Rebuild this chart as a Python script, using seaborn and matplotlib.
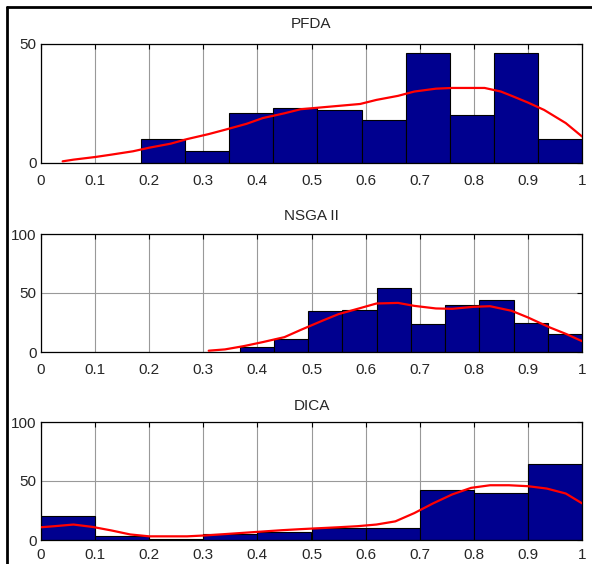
import numpy as np
import pandas as pd
import matplotlib
matplotlib.use("Agg")
import matplotlib.pyplot as plt
from matplotlib.lines import Line2D
import seaborn as sns

# ---------------- data ----------------
titles = ["PFDA", "NSGA II", "DICA"]

pfda_range = (0.185, 1.0)
pfda_counts = [10, 5, 21, 23, 22, 18, 46, 20, 46, 10]
pfda_fit_x = [0.04, 0.06, 0.10, 0.13, 0.17, 0.20, 0.24, 0.27, 0.31, 0.34, 0.38,
              0.41, 0.45, 0.48, 0.52, 0.55, 0.59, 0.62, 0.66, 0.69, 0.73, 0.76,
              0.82, 0.85, 0.87, 0.90, 0.93, 0.97, 1.00]
pfda_fit_y = [0.7, 1.4, 2.5, 3.5, 4.9, 6.4, 8.1, 10.0, 12.1, 13.9, 16.4,
              18.8, 20.8, 22.5, 23.3, 23.9, 24.7, 26.4, 28.1, 29.9, 31.1, 31.4,
              31.4, 29.9, 28.1, 25.3, 22.2, 16.7, 11.1]

nsga_range = (0.367, 1.0)
nsga_counts = [4, 11, 35, 36, 54, 24, 40, 44, 25, 15]
nsga_fit_x = [0.31, 0.34, 0.375, 0.41, 0.45, 0.48, 0.52, 0.55, 0.59, 0.62, 0.66,
              0.69, 0.73, 0.76, 0.80, 0.83, 0.87, 0.90, 0.94, 0.97, 1.00]
nsga_fit_y = [1.1, 2.2, 5.0, 8.4, 12.6, 18.7, 26.5, 32.1, 37.2, 41.1, 41.6,
              39.1, 36.9, 36.6, 38.3, 38.8, 34.9, 29.3, 20.9, 15.4, 9.2]

dica_range = (0.0, 1.0)
dica_counts = [20, 3, 1, 5, 7, 10, 10, 42, 40, 64]
dica_fit_x = [0.0, 0.025, 0.06, 0.095, 0.13, 0.165, 0.20, 0.235, 0.27, 0.305,
              0.34, 0.375, 0.41, 0.445, 0.48, 0.515, 0.55, 0.585, 0.62, 0.655,
              0.69, 0.725, 0.76, 0.795, 0.83, 0.865, 0.90, 0.935, 0.97, 1.0]
dica_fit_y = [10.8, 11.7, 13.1, 11.1, 8.1, 4.7, 3.1, 3.1, 3.1, 3.9,
              5.0, 6.1, 7.2, 8.3, 9.2, 10.0, 10.8, 11.7, 13.1, 15.8,
              22.8, 31.1, 38.6, 44.2, 46.4, 46.4, 45.6, 43.6, 39.4, 31.1]

y_limits = [50, 100, 100]
y_ticks = [[0, 50], [0, 50, 100], [0, 50, 100]]
x_ticks = [0, 0.1, 0.2, 0.3, 0.4, 0.5, 0.6, 0.7, 0.8, 0.9, 1]
x_ticklabels = ["0", "0.1", "0.2", "0.3", "0.4", "0.5", "0.6", "0.7", "0.8", "0.9", "1"]

ranges = [pfda_range, nsga_range, dica_range]
counts = [pfda_counts, nsga_counts, dica_counts]
fits = [(pfda_fit_x, pfda_fit_y), (nsga_fit_x, nsga_fit_y), (dica_fit_x, dica_fit_y)]

# ---------------- plot ----------------
sns.set_style("white")
plt.rcParams['font.family'] = ['Liberation Sans', 'DejaVu Sans']
plt.rcParams['font.size'] = 11

fig = plt.figure(figsize=(5.92, 5.64), dpi=100)
fig.patch.set_facecolor("white")

W, H = 592, 564
left_px, right_px = 41, 582
axes_px = [(43.5, 163), (234, 352), (422, 540)]
title_pads = [11, 10, 9]
xlabel_pads = [8, 8, 6]

bar_color = "#00008F"

for i in range(3):
    top, bot = axes_px[i]
    ax = fig.add_axes([left_px / W, 1 - bot / H, (right_px - left_px) / W, (bot - top) / H])
    lo, hi = ranges[i]
    nb = len(counts[i])
    width = (hi - lo) / nb
    centers = [lo + width * (k + 0.5) for k in range(nb)]
    df = pd.DataFrame({"x": centers, "w": counts[i]})
    sns.histplot(data=df, x="x", weights="w", bins=nb, binrange=(lo, hi), ax=ax,
                 color=bar_color, edgecolor="black", linewidth=0.8, alpha=1.0,
                 zorder=2)
    fdf = pd.DataFrame({"x": fits[i][0], "y": fits[i][1]})
    sns.lineplot(data=fdf, x="x", y="y", ax=ax, color="red", linewidth=1.6,
                 zorder=3, sort=True)

    ax.set_xlim(0, 1)
    ax.set_ylim(0, y_limits[i])
    ax.set_xticks(x_ticks)
    ax.set_xticklabels(x_ticklabels)
    ax.set_yticks(y_ticks[i])
    ax.set_xlabel("")
    ax.set_ylabel("")
    ax.set_title(titles[i], fontsize=11, pad=title_pads[i])
    ax.set_axisbelow(True)
    ax.grid(True, color="#999999", linewidth=0.8)
    ax.tick_params(direction="in", length=3.5, width=0.8, top=True, right=True,
                   labelsize=11, color="black")
    ax.tick_params(axis="x", pad=xlabel_pads[i])
    ax.tick_params(axis="y", pad=3)
    for s in ax.spines.values():
        s.set_visible(True)
        s.set_color("black")
        s.set_linewidth(0.9)

# figure frame (left and top border)
fig.add_artist(Line2D([6.5 / W, 6.5 / W], [0, 1 - 6.5 / H], transform=fig.transFigure,
                      color="black", linewidth=2))
fig.add_artist(Line2D([6.5 / W, 1], [1 - 6.5 / H, 1 - 6.5 / H], transform=fig.transFigure,
                      color="black", linewidth=2))

fig.savefig("out.png", dpi=100)
